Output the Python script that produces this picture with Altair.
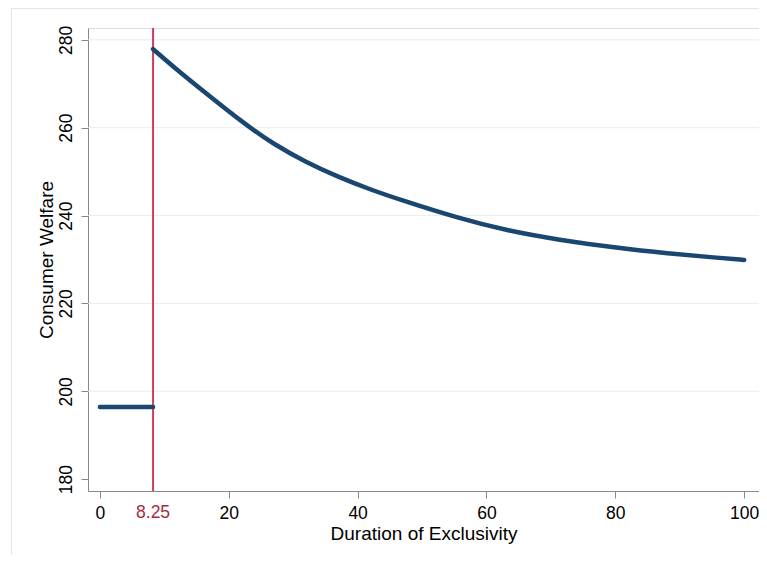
import altair as alt
import pandas as pd

# ---- data ----
flat_x = [0, 8.25]
flat_y = [196.4, 196.4]

curve_x = [8.25, 11.3, 16.5, 22.7, 26.8, 31.9, 37.1, 42.2, 46.4, 55.6, 63.4, 71.1, 80.4, 88.1, 95.8, 100]
curve_y = [277.9, 274.0, 267.8, 260.6, 256.4, 252.2, 248.7, 245.8, 243.7, 239.4, 236.5, 234.5, 232.6, 231.4, 230.4, 229.9]

threshold = [8.25]
threshold_label = ["8.25"]

x_ticks = [0, 20, 40, 60, 80, 100]
y_ticks = [180, 200, 220, 240, 260, 280]
grid_vals = [200, 220, 240, 260, 280]

x_domain = [-1.85, 102.3]
y_domain = [177.3, 282.7]

W, H = 671, 463
FONT = "Liberation Sans"
NAVY = "#1a476f"

rows = [{"x": a, "y": b, "seg": "flat"} for a, b in zip(flat_x, flat_y)]
rows += [{"x": a, "y": b, "seg": "curve"} for a, b in zip(curve_x, curve_y)]
df = pd.DataFrame(rows)

xs = alt.Scale(domain=x_domain, nice=False, zero=False)
ys = alt.Scale(domain=y_domain, nice=False, zero=False)

x_axis = alt.Axis(values=x_ticks, title="Duration of Exclusivity",
                  grid=False, tickSize=7, labelPadding=20,
                  labelBaseline="alphabetic", labelFontSize=17.5,
                  titleFontSize=19, titleBaseline="alphabetic",
                  titleY=48, titleFontWeight="normal")
y_axis = alt.Axis(values=y_ticks, title="Consumer Welfare",
                  grid=False, tickSize=7, labelPadding=9.5,
                  labelAngle=270, labelAlign="center",
                  labelBaseline="alphabetic", labelFontSize=17.5,
                  titleFontSize=19, titleAngle=270,
                  titleBaseline="alphabetic", titleX=-36,
                  titleFontWeight="normal")

grid = alt.Chart(pd.DataFrame({"g": grid_vals})).mark_rule(
    color="#e6edf2", strokeWidth=1
).encode(
    y=alt.Y("g:Q", scale=ys, axis=y_axis),
    x=alt.value(0),
    x2=alt.value(W),
)

frame = alt.Chart(pd.DataFrame({"a": [0]})).mark_rect(
    fill=None, stroke="#e4e4e4", strokeWidth=1
).encode(
    x=alt.value(-76.5),
    x2=alt.value(W + 40),
    y=alt.value(-19.5),
    y2=alt.value(H + 120),
)

rule = alt.Chart(pd.DataFrame({"t": threshold})).mark_rule(
    color="#cf3b5b", strokeWidth=2
).encode(x=alt.X("t:Q", scale=xs, axis=x_axis))

lines = alt.Chart(df).mark_line(
    color=NAVY, strokeWidth=4.5, strokeCap="round", interpolate="basis"
).encode(
    x=alt.X("x:Q", scale=xs, axis=x_axis),
    y=alt.Y("y:Q", scale=ys, axis=y_axis),
    detail="seg:N",
)

label = alt.Chart(pd.DataFrame({"t": threshold, "lab": threshold_label})).mark_text(
    color="#9e2f3e", fontSize=17.5, font=FONT, baseline="alphabetic", align="center"
).encode(
    x=alt.X("t:Q", scale=xs, axis=x_axis),
    y=alt.value(H + 27),
    text="lab:N",
)

chart = alt.layer(grid, frame, rule, lines, label).properties(
    width=W, height=H,
    autosize=alt.AutoSizeParams(type="none"),
    padding={"left": 80, "top": 20, "right": 0, "bottom": 64},
).configure_view(stroke=None).configure_axis(
    domainColor="#000000", domainWidth=1.3, tickColor="#000000", tickWidth=1.2,
    labelColor="#111111", titleColor="#111111", labelFont=FONT, titleFont=FONT,
).configure(background="white")

chart.save("out.html", embed_options={"renderer": "svg", "actions": False})
